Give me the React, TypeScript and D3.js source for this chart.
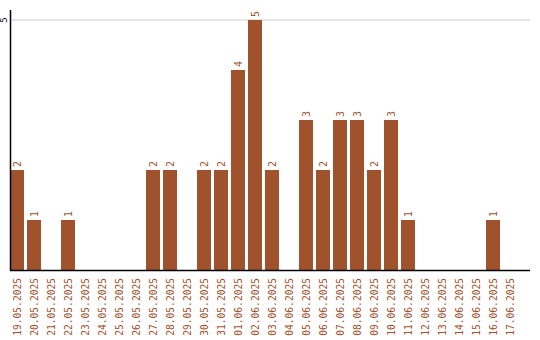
import React from "react";
import * as d3 from "d3";

const categories: string[] = [
  "19.05.2025", "20.05.2025", "21.05.2025", "22.05.2025", "23.05.2025",
  "24.05.2025", "25.05.2025", "26.05.2025", "27.05.2025", "28.05.2025",
  "29.05.2025", "30.05.2025", "31.05.2025", "01.06.2025", "02.06.2025",
  "03.06.2025", "04.06.2025", "05.06.2025", "06.06.2025", "07.06.2025",
  "08.06.2025", "09.06.2025", "10.06.2025", "11.06.2025", "12.06.2025",
  "13.06.2025", "14.06.2025", "15.06.2025", "16.06.2025", "17.06.2025",
];
const values: number[] = [
  2, 1, 0, 1, 0, 0, 0, 0, 2, 2, 0, 2, 2, 4, 5, 2, 0, 3, 2, 3, 3, 2, 3, 1, 0, 0, 0, 0, 1, 0,
];
const yTicks: number[] = [5];

const W = 540;
const H = 340;
const left = 10;
const right = 530;
const top = 20;
const base = 270;
const color = "#A0522D";
const font = "'DejaVu Sans Mono', monospace";

export default function App() {
  const x = d3
    .scaleBand<string>()
    .domain(categories)
    .range([left, left + categories.length * 17 - 3])
    .paddingInner(3 / 17)
    .paddingOuter(0)
    .align(0);
  const y = d3.scaleLinear().domain([0, 5]).range([base, top]);

  return (
    <svg
      width={W}
      height={H}
      style={{ position: "absolute", left: 0, top: 0, background: "#fff" }}
    >
      {yTicks.map((t) => (
        <g key={t}>
          <line x1={left} x2={right} y1={y(t)} y2={y(t)} stroke="#cccccc" strokeWidth={1} />
          <text
            transform={`translate(7, ${y(t)}) rotate(-90)`}
            textAnchor="middle"
            fontFamily={font}
            fontSize={9}
            fill="#000"
          >
            {t}
          </text>
        </g>
      ))}
      {categories.map((c, i) => {
        const v = values[i];
        const bx = x(c)!;
        const bw = x.bandwidth();
        return (
          <g key={c}>
            {v > 0 && (
              <rect x={bx} y={y(v)} width={bw} height={y(0) - y(v)} fill={color} />
            )}
            {v > 0 && (
              <text
                transform={`translate(${bx + bw / 2 + 3.5}, ${y(v) - 3}) rotate(-90)`}
                textAnchor="start"
                fontFamily={font}
                fontSize={10}
                fill={color}
              >
                {v}
              </text>
            )}
            <text
              transform={`translate(${bx + bw / 2 + 3.5}, ${base + 8}) rotate(-90)`}
              textAnchor="end"
              fontFamily={font}
              fontSize={9.6}
              fill={color}
            >
              {c}
            </text>
          </g>
        );
      })}
      <line x1={left + 0.5} x2={left + 0.5} y1={10} y2={base} stroke="#000" strokeWidth={1.5} />
      <line x1={left} x2={right} y1={base + 0.5} y2={base + 0.5} stroke="#000" strokeWidth={1.5} />
    </svg>
  );
}
